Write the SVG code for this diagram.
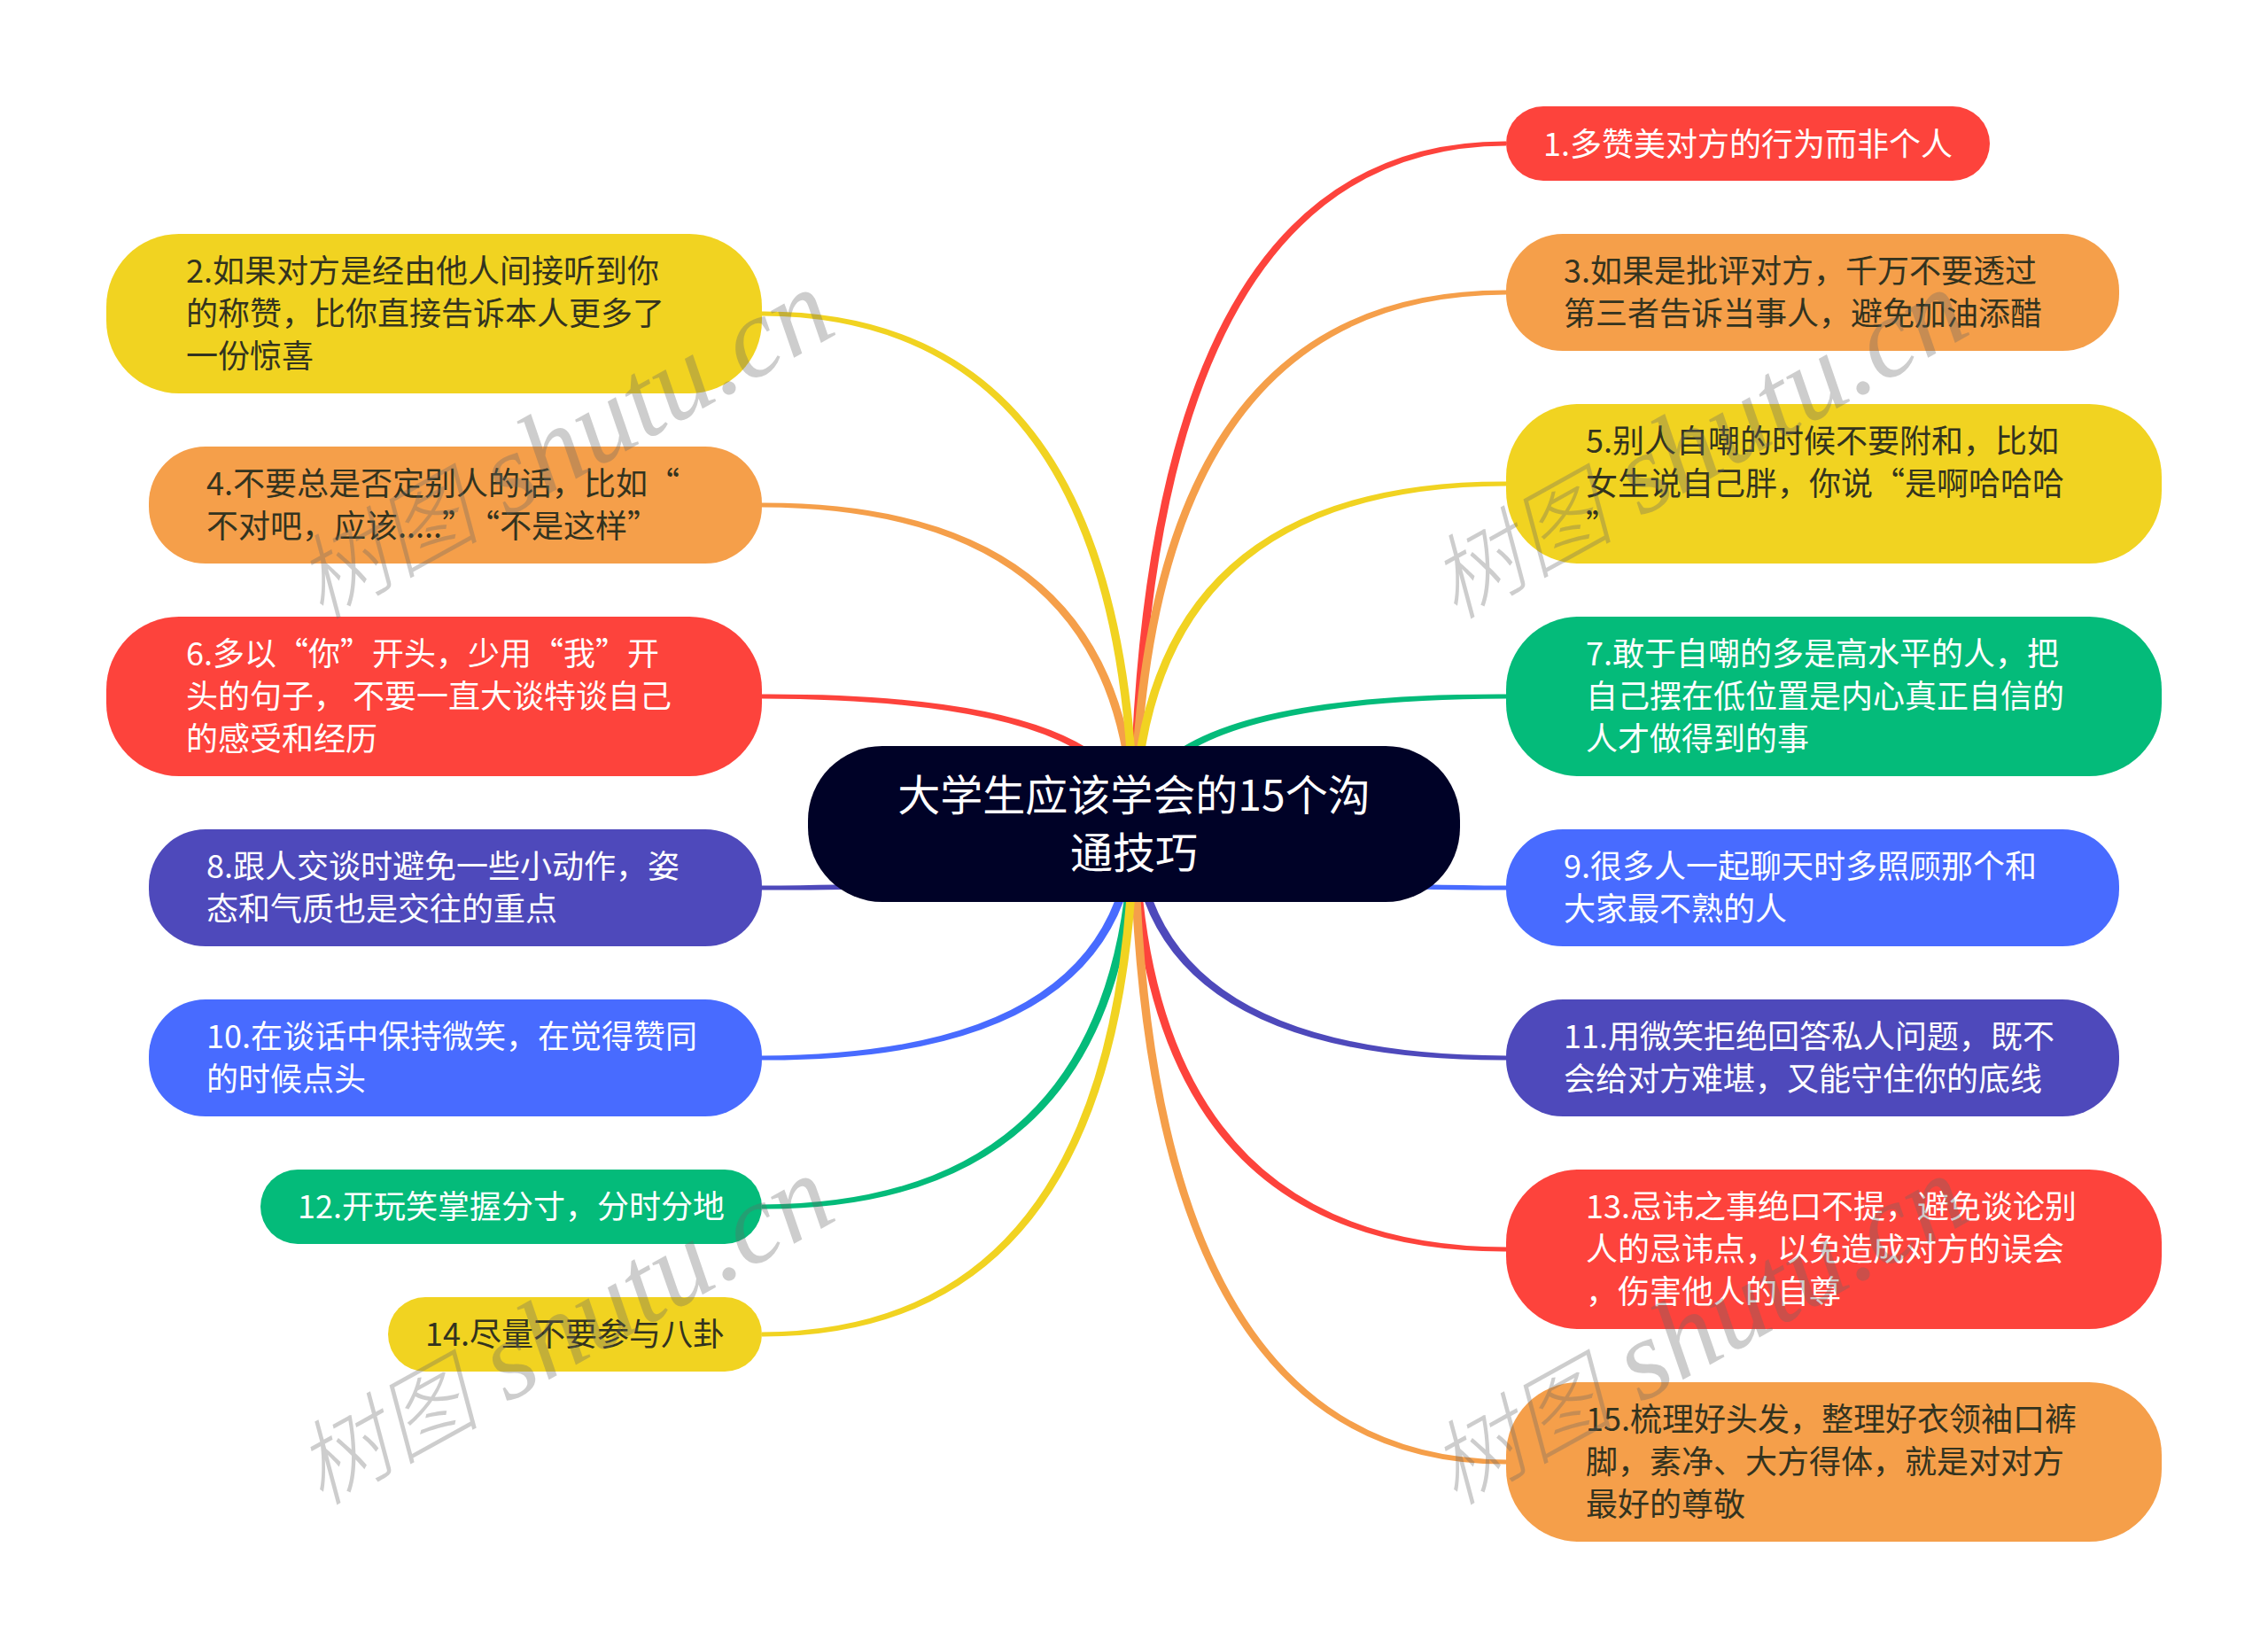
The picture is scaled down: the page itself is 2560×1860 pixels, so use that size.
<svg xmlns="http://www.w3.org/2000/svg" width="2560" height="1860" viewBox="0 0 2560 1860">
<style>
text{font-family:"Noto Sans CJK SC","Noto Sans",sans-serif;font-size:36px}
.d{fill:#33331f}.w{fill:#fff}
.R{fill:#fd433c}.O{fill:#f59f4a}.Y{fill:#f1d321}.G{fill:#04bb7a}.B{fill:#486bff}.I{fill:#4e49bb}
.c{font-size:48px;text-anchor:middle}
.m{font-family:"Liberation Serif","Noto Sans CJK SC",serif;font-size:128px;font-style:italic;fill:#666;fill-opacity:.33}
.m .z{font-family:"Noto Sans CJK SC",serif;font-size:104px;font-weight:300}
</style>
<rect width="2560" height="1860" fill="#fff"/>
<g id="connectors">
<path class="R" d="M1275 930Q1286 158 1700 159.500L1700 164.500Q1294 166 1285 930Z"/>
<path class="O" d="M1275 930Q1286 326 1700 327.500L1700 332.500Q1294 334 1285 930Z"/>
<path class="Y" d="M1275 930Q1286 542 1700 543.500L1700 548.500Q1294 550 1285 930Z"/>
<path class="G" d="M1275 930Q1286 782 1700 783.500L1700 788.500Q1294 790 1285 930Z"/>
<path class="B" d="M1275 930Q1286 1006 1700 1004.500L1700 999.500Q1294 998 1285 930Z"/>
<path class="I" d="M1275 930Q1286 1198 1700 1196.500L1700 1191.500Q1294 1190 1285 930Z"/>
<path class="R" d="M1275 930Q1286 1414 1700 1412.500L1700 1407.500Q1294 1406 1285 930Z"/>
<path class="O" d="M1275 930Q1286 1654 1700 1652.500L1700 1647.500Q1294 1646 1285 930Z"/>
<path class="R" d="M1285 930Q1274 782 860 783.500L860 788.500Q1266 790 1275 930Z"/>
<path class="O" d="M1285 930Q1274 566 860 567.500L860 572.500Q1266 574 1275 930Z"/>
<path class="Y" d="M1285 930Q1274 350 860 351.500L860 356.500Q1266 358 1275 930Z"/>
<path class="I" d="M1285 930Q1274 1006 860 1004.500L860 999.500Q1266 998 1275 930Z"/>
<path class="B" d="M1285 930Q1274 1198 860 1196.500L860 1191.500Q1266 1190 1275 930Z"/>
<path class="G" d="M1285 930Q1274 1366 860 1364.500L860 1359.500Q1266 1358 1275 930Z"/>
<path class="Y" d="M1285 930Q1274 1510 860 1508.500L860 1503.500Q1266 1502 1275 930Z"/>
</g>
<g id="center"><rect x="912" y="842" width="736" height="176" rx="84" fill="#000227"/><text class="c w" x="1280" y="915">大学生应该学会的15个沟<tspan x="1280" dy="65">通技巧</tspan></text></g>
<g id="n1"><rect class="R" x="1700" y="120" width="546" height="84" rx="42"/><text class="w" x="1742" y="176">1.多赞美对方的行为而非个人</text></g>
<g id="n2"><rect class="Y" x="120" y="264" width="740" height="180" rx="82"/><text class="d" x="210" y="319">2.如果对方是经由他人间接听到你<tspan x="210" dy="48">的称赞，比你直接告诉本人更多了</tspan><tspan x="210" dy="48">一份惊喜</tspan></text></g>
<g id="n3"><rect class="O" x="1700" y="264" width="692" height="132" rx="64"/><text class="d" x="1765" y="319">3.如果是批评对方，千万不要透过<tspan x="1765" dy="48">第三者告诉当事人，避免加油添醋</tspan></text></g>
<g id="n4"><rect class="O" x="168" y="504" width="692" height="132" rx="64"/><text class="d" x="233" y="559">4.不要总是否定别人的话，比如“<tspan x="233" dy="48">不对吧，应该.....”</tspan><tspan dx="11">“不是这样”</tspan></text></g>
<g id="n5"><rect class="Y" x="1700" y="456" width="740" height="180" rx="82"/><text class="d" x="1790" y="511">5.别人自嘲的时候不要附和，比如<tspan x="1790" dy="48">女生说自己胖，你说“是啊哈哈哈</tspan><tspan x="1790" dy="48">”</tspan></text></g>
<g id="n6"><rect class="R" x="120" y="696" width="740" height="180" rx="82"/><text class="w" x="210" y="751">6.多以“你”开头，少用“我”开<tspan x="210" dy="48">头的句子， 不要一直大谈特谈自己</tspan><tspan x="210" dy="48">的感受和经历</tspan></text></g>
<g id="n7"><rect class="G" x="1700" y="696" width="740" height="180" rx="82"/><text class="w" x="1790" y="751">7.敢于自嘲的多是高水平的人，把<tspan x="1790" dy="48">自己摆在低位置是内心真正自信的</tspan><tspan x="1790" dy="48">人才做得到的事</tspan></text></g>
<g id="n8"><rect class="I" x="168" y="936" width="692" height="132" rx="64"/><text class="w" x="233" y="991">8.跟人交谈时避免一些小动作，姿<tspan x="233" dy="48">态和气质也是交往的重点</tspan></text></g>
<g id="n9"><rect class="B" x="1700" y="936" width="692" height="132" rx="64"/><text class="w" x="1765" y="991">9.很多人一起聊天时多照顾那个和<tspan x="1765" dy="48">大家最不熟的人</tspan></text></g>
<g id="n10"><rect class="B" x="168" y="1128" width="692" height="132" rx="64"/><text class="w" x="233" y="1183">10.在谈话中保持微笑，在觉得赞同<tspan x="233" dy="48">的时候点头</tspan></text></g>
<g id="n11"><rect class="I" x="1700" y="1128" width="692" height="132" rx="64"/><text class="w" x="1765" y="1183">11.用微笑拒绝回答私人问题，既不<tspan x="1765" dy="48">会给对方难堪，又能守住你的底线</tspan></text></g>
<g id="n12"><rect class="G" x="294" y="1320" width="566" height="84" rx="42"/><text class="w" x="336" y="1375">12.开玩笑掌握分寸，分时分地</text></g>
<g id="n13"><rect class="R" x="1700" y="1320" width="740" height="180" rx="82"/><text class="w" x="1790" y="1375">13.忌讳之事绝口不提，避免谈论别<tspan x="1790" dy="48">人的忌讳点，以免造成对方的误会</tspan><tspan x="1790" dy="48">，伤害他人的自尊</tspan></text></g>
<g id="n14"><rect class="Y" x="438" y="1464" width="422" height="84" rx="42"/><text class="d" x="480" y="1519">14.尽量不要参与八卦</text></g>
<g id="n15"><rect class="O" x="1700" y="1560" width="740" height="180" rx="82"/><text class="d" x="1790" y="1615">15.梳理好头发，整理好衣领袖口裤<tspan x="1790" dy="48">脚，素净、大方得体，就是对对方</tspan><tspan x="1790" dy="48">最好的尊敬</tspan></text></g>
<g id="watermark">
<text class="m" transform="translate(362 700) rotate(-29)"><tspan class="z">树图</tspan> shutu.cn</text>
<text class="m" transform="translate(1642 700) rotate(-29)"><tspan class="z">树图</tspan> shutu.cn</text>
<text class="m" transform="translate(362 1700) rotate(-29)"><tspan class="z">树图</tspan> shutu.cn</text>
<text class="m" transform="translate(1642 1700) rotate(-29)"><tspan class="z">树图</tspan> shutu.cn</text>
</g>
</svg>
